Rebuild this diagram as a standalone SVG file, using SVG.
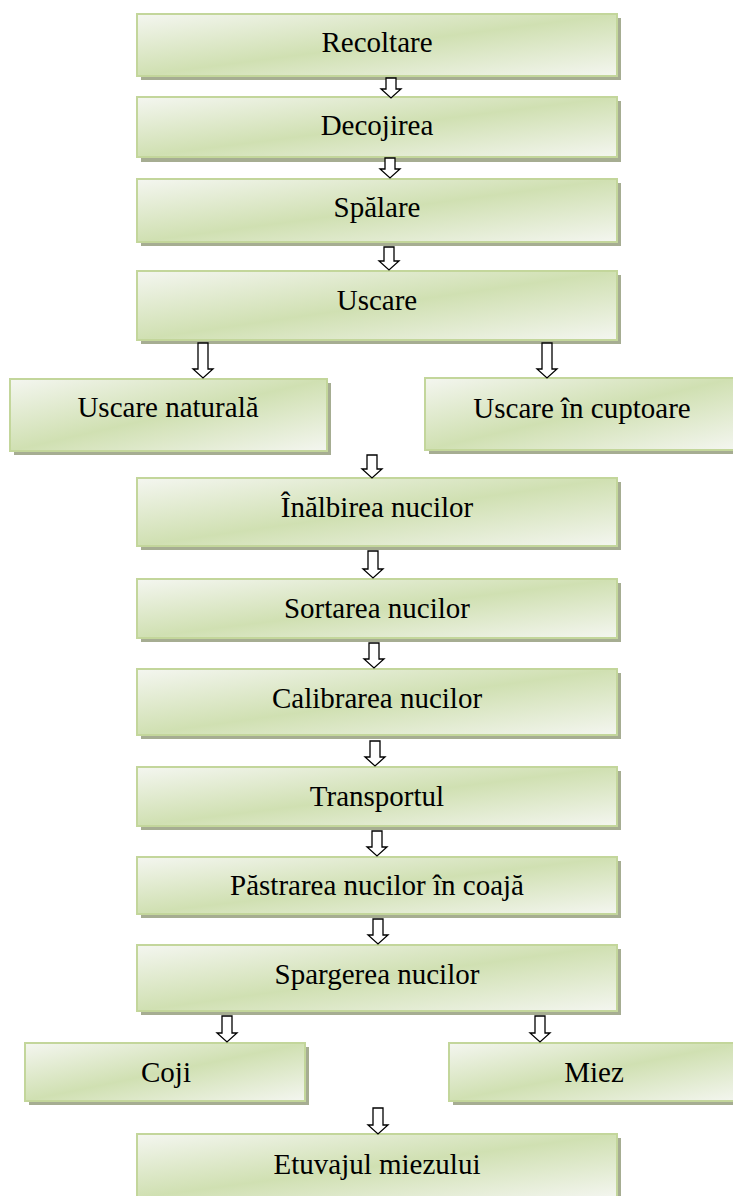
<svg xmlns="http://www.w3.org/2000/svg" width="733" height="1196" viewBox="0 0 733 1196">
<defs>
<linearGradient id="g" x1="0" y1="0" x2="1" y2="1">
<stop offset="0" stop-color="#f4f6f0"/>
<stop offset="0.5" stop-color="#d0e0b2"/>
<stop offset="1" stop-color="#f4f6f0"/>
</linearGradient>
</defs>
<style>
.sh{fill:#a6ad92}
.bx{fill:url(#g);stroke:#c3d69b;stroke-width:2}
.t{font-family:"Liberation Serif","Times New Roman",serif;font-size:29px;fill:#000;text-anchor:middle}
.ar{fill:#fff;stroke:#000;stroke-width:1.3;stroke-linejoin:miter}
</style>
<g id="n1"><rect class="sh" x="141" y="18" width="480" height="62"/><rect class="bx" x="137" y="14" width="480" height="62"/><text class="t" x="377" y="52">Recoltare</text></g>
<g id="n2"><rect class="sh" x="141" y="101" width="480" height="61"/><rect class="bx" x="137" y="97" width="480" height="60"/><text class="t" x="377" y="135">Decojirea</text></g>
<g id="n3"><rect class="sh" x="141" y="183" width="480" height="63"/><rect class="bx" x="137" y="179" width="480" height="63"/><text class="t" x="377" y="217">Spălare</text></g>
<g id="n4"><rect class="sh" x="141" y="275" width="480" height="69"/><rect class="bx" x="137" y="271" width="480" height="69"/><text class="t" x="377" y="310">Uscare</text></g>
<g id="n5"><rect class="sh" x="14" y="383" width="317" height="72"/><rect class="bx" x="10" y="379" width="317" height="72"/><text class="t" x="168" y="417">Uscare naturală</text></g>
<g id="n6"><rect class="sh" x="429" y="382" width="310" height="72"/><rect class="bx" x="425" y="378" width="310" height="72"/><text class="t" x="582" y="418">Uscare în cuptoare</text></g>
<g id="n7"><rect class="sh" x="141" y="482" width="480" height="68"/><rect class="bx" x="137" y="478" width="480" height="68"/><text class="t" x="377" y="517">Înălbirea nucilor</text></g>
<g id="n8"><rect class="sh" x="141" y="583" width="480" height="59"/><rect class="bx" x="137" y="579" width="480" height="59"/><text class="t" x="377" y="618">Sortarea nucilor</text></g>
<g id="n9"><rect class="sh" x="141" y="673" width="480" height="66"/><rect class="bx" x="137" y="669" width="480" height="66"/><text class="t" x="377" y="708">Calibrarea nucilor</text></g>
<g id="n10"><rect class="sh" x="141" y="771" width="480" height="59"/><rect class="bx" x="137" y="767" width="480" height="59"/><text class="t" x="377" y="806">Transportul</text></g>
<g id="n11"><rect class="sh" x="141" y="861" width="480" height="57"/><rect class="bx" x="137" y="857" width="480" height="57"/><text class="t" x="377" y="895">Păstrarea nucilor în coajă</text></g>
<g id="n12"><rect class="sh" x="141" y="949" width="480" height="66"/><rect class="bx" x="137" y="945" width="480" height="66"/><text class="t" x="377" y="984">Spargerea nucilor</text></g>
<g id="n13"><rect class="sh" x="29" y="1047" width="280" height="58"/><rect class="bx" x="25" y="1043" width="280" height="58"/><text class="t" x="166" y="1082">Coji</text></g>
<g id="n14"><rect class="sh" x="453" y="1047" width="290" height="58"/><rect class="bx" x="449" y="1043" width="290" height="58"/><text class="t" x="594" y="1082">Miez</text></g>
<g id="n15"><rect class="sh" x="141" y="1138" width="480" height="62"/><rect class="bx" x="137" y="1134" width="480" height="64"/><text class="t" x="377" y="1174">Etuvajul miezului</text></g>
<g id="connectors">
<path class="ar" d="M386,78 H396 V89 H401 L391,98 L381,89 H386 Z"/>
<path class="ar" d="M385,158 H395 V169 H400 L390,178 L380,169 H385 Z"/>
<path class="ar" d="M384,247 H394 V261 H399 L389,270 L379,261 H384 Z"/>
<path class="ar" d="M198,343 H208 V369 H213 L203,378 L193,369 H198 Z"/>
<path class="ar" d="M542,343 H552 V369 H557 L547,378 L537,369 H542 Z"/>
<path class="ar" d="M367,455 H377 V469 H382 L372,478 L362,469 H367 Z"/>
<path class="ar" d="M368,551 H378 V569 H383 L373,578 L363,569 H368 Z"/>
<path class="ar" d="M369,643 H379 V659 H384 L374,668 L364,659 H369 Z"/>
<path class="ar" d="M370,741 H380 V757 H385 L375,766 L365,757 H370 Z"/>
<path class="ar" d="M372,831 H382 V847 H387 L377,856 L367,847 H372 Z"/>
<path class="ar" d="M373,919 H383 V935 H388 L378,944 L368,935 H373 Z"/>
<path class="ar" d="M222,1016 H232 V1033 H237 L227,1042 L217,1033 H222 Z"/>
<path class="ar" d="M535,1016 H545 V1033 H550 L540,1042 L530,1033 H535 Z"/>
<path class="ar" d="M373,1108 H383 V1125 H388 L378,1134 L368,1125 H373 Z"/>
</g>
</svg>
